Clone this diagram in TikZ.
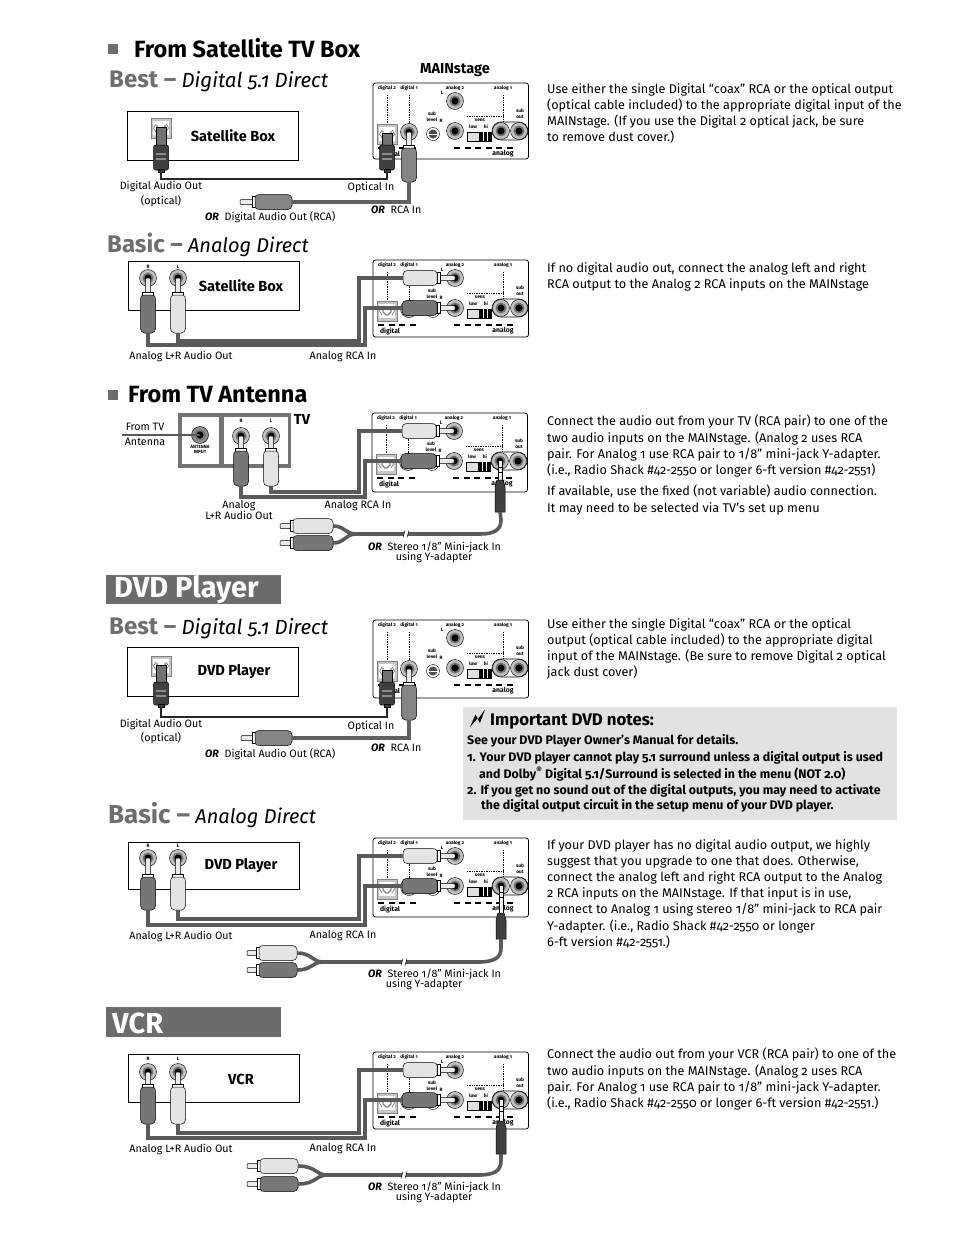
\documentclass[tikz,border=0pt]{standalone}
\usepackage{fontspec}
\setmainfont{Fira Sans}[Numbers=OldStyle]
\usepackage{xcolor}
\usetikzlibrary{positioning}
\definecolor{headgray}{HTML}{6E6E6E}
\definecolor{bannergray}{HTML}{6C6C6C}
\definecolor{notegray}{HTML}{E2E2E2}
\definecolor{plugdark}{HTML}{777777}
\definecolor{plugwhite}{HTML}{E4E4E4}
\definecolor{optdark}{HTML}{404040}
\definecolor{cablegray}{HTML}{5A5A5A}
\newcommand{\grayhead}[2][24]{\textcolor{headgray}{\fontsize{#1}{#1}\selectfont\upshape\bfseries #2 –}}
\newcommand{\orword}{{\bfseries\itshape OR}}
\tikzset{
  sourcebox/.style={draw, thick, minimum width=171pt, minimum height=49pt, inner sep=0pt},
  boxtext/.style={font=\fontsize{14.6}{14.6}\selectfont\bfseries, inner sep=0pt},
  section/.style={anchor=west, inner sep=0pt, font=\fontsize{23.5}{23.5}\selectfont\bfseries},
  bullet/.style={fill=headgray, minimum size=10pt, inner sep=0pt},
  subhead/.style={anchor=west, inner sep=0pt, font=\fontsize{20.5}{22}\selectfont\itshape},
  banner/.style={fill=bannergray, minimum width=175pt, minimum height=29.5pt, inner sep=0pt},
  bannertext/.style={anchor=west, inner sep=0pt, text=white, font=\fontsize{29}{29}\selectfont\bfseries},
  lbl/.style={inner sep=0pt, yshift=-1.5pt, align=center, font=\fontsize{10.7}{10.7}\selectfont},
  note/.style={anchor=north west, inner sep=0pt, align=left, font=\fontsize{12.65}{16.2}\selectfont},
  notebold/.style={anchor=west, inner sep=0pt, yshift=-1pt, font=\fontsize{12.4}{12.4}\selectfont\bfseries},
  ptxt/.style={inner sep=0pt, align=center, font=\fontsize{4.8}{6}\selectfont\bfseries},
  jack/.style={circle, draw=black, fill=black!25, minimum size=17pt, inner sep=0pt, path picture={
    \fill[black!55, shift={(path picture bounding box.center)}] (0,0) circle (5.5);
    \fill[black, shift={(path picture bounding box.center)}] (0,0) circle (3.5);}},
  knob/.style={circle, draw=black, fill=white, minimum size=13pt, inner sep=0pt, path picture={
    \fill[black!70, shift={(path picture bounding box.center)}] (0,0) circle (4.5);
    \draw[white, shift={(path picture bounding box.center)}] (-5,0) -- (5,0);}},
  optjack/.style={rectangle, draw=black!50, fill=black!22, minimum size=20pt, inner sep=0pt, path picture={
    \begin{scope}[shift={(path picture bounding box.center)}]
      \fill[white] (-8,-7) rectangle (8,7);
      \draw[line width=.7] (-5,-4) -- (-7.5,0) -- (-5,4) (5,-4) -- (7.5,0) -- (5,4);
      \draw[line width=1.3] (-4,-3) -- (-4,1) -- (-1,4) -- (1,4) -- (4,1) -- (4,-3);
    \end{scope}}},
  plugline/.style={draw=black, line width=.5pt},
  cable/.style={draw=cablegray, line width=3.6pt},
  cablerca/.style={draw=black!62, line width=3.6pt},
  cableopt/.style={draw=black!85, line width=2.8pt},
  dots/.style={densely dotted, line width=.7pt},
  dashbar/.style={line width=1.2pt, dash pattern=on 6pt off 4.5pt},
  % panel of the receiver, origin at its top left corner
  pics/mainstage/.style={code={
    \draw[line width=.8pt, rounded corners=2.5pt, fill=white] (0,0) rectangle (155.5,#1);
    \draw[dots] (14,12) -- (14,42) (36,12) -- (36,40) (130,12) -- (130,39) (94,33) -- (130,33);
    \node[ptxt] (-dtwo) at (14,5) {digital 2};
    \node[ptxt] (-done) at (36,5) {digital 1};
    \node[ptxt] (-atwo) at (82,5) {analog 2};
    \node[ptxt] (-aone) at (130,5) {analog 1};
    \node[ptxt] (-lft) at (69,10) {L};
    \node[ptxt] (-rgt) at (68,38) {R};
    \node[ptxt] (-sub) at (59,33.5) {sub\\level};
    \node[ptxt] (-sens) at (107,37.5) {sens};
    \node[ptxt] (-low) at (100,44) {low};
    \node[ptxt] (-hi) at (113,44) {hi};
    \node[ptxt] (-sout) at (147,30.5) {sub\\out};
    \node[ptxt, font=\fontsize{6.8}{7}\selectfont\bfseries] (-dlab) at (17,71) {digital};
    \node[ptxt, font=\fontsize{6.8}{7}\selectfont\bfseries] (-alab) at (130,71) {analog};
    \draw[dashbar] (5,65) -- (43,65) (81,65) -- (142,65);
    \draw[line width=.6pt, rounded corners=9pt] (119,39) rectangle (155,57);
    \node[jack] (-anal) at (82,18) {};
    \node[jack] (-anar) at (82,48) {};
    \node[jack] (-anaone) at (128,48) {};
    \node[jack] (-subout) at (146,48) {};
    \node[jack] (-dig) at (36,49) {};
    \node[optjack] (-opt) at (14,51) {};
    \node[knob] (-lev) at (60,51) {};
    \draw[fill=black!12, line width=.5pt] (94,49) rectangle (118,58);
    \fill[black] (106,49) rectangle (118,58);
    \draw[white, line width=.6pt] (110,49) -- (110,58) (114,49) -- (114,58);
  }},
  % RCA plug: colour, neck, body
  pics/rcaplug/.style n args={3}{code={
    \draw[plugline, fill=black!8, rounded corners=1pt] (-2.5,0) rectangle (2.5,{#2+1});
    \draw[plugline, fill=white] (-5.5,#2) rectangle (5.5,{#2+3});
    \draw[plugline, fill=#1, rounded corners=1.5pt] (-6.5,{#2+3}) -- (-7.5,{#2+7}) -- (-7.5,{#2+#3})
      -- (-5,{#2+3+#3}) -- (5,{#2+3+#3}) -- (7.5,{#2+#3}) -- (7.5,{#2+7}) -- (6.5,{#2+3}) -- cycle;
    \coordinate (-end) at (0,{#2+3+#3});
  }},
  % optical plug: neck, body
  pics/optplug/.style n args={2}{code={
    \draw[plugline, fill=black!55] (-5,-1) rectangle (5,#1);
    \draw[plugline, fill=optdark, rounded corners=2pt] (-7.5,#1) rectangle (7.5,{#1+#2-2});
    \draw[plugline, fill=optdark] (-3,{#1+#2-3}) rectangle (3,{#1+#2});
    \draw[black!45, line width=1.2pt] (-5,{#1+9}) -- (5,{#1+9}) (-5,{#1+14}) -- (5,{#1+14});
    \coordinate (-end) at (0,{#1+#2});
  }},
  % stereo mini plug: neck, body
  pics/miniplug/.style n args={2}{code={
    \draw[plugline, fill=black!5] (-1.8,-1) rectangle (1.8,#1);
    \draw[black, line width=.6pt] (-1.8,6) -- (1.8,6) (-1.8,11) -- (1.8,11);
    \draw[plugline, fill=optdark] (-3,#1) -- (-5,{#1+7}) -- (-5,{#1+#2}) -- (5,{#1+#2}) -- (5,{#1+7}) -- (3,#1) -- cycle;
    \coordinate (-end) at (0,{#1+#2});
  }},
  % break mark on the long cable
  pics/cablecut/.style={code={
    \fill[white] (-2,-3) rectangle (2,3);
    \draw[line width=.5pt] (-3,3.5) .. controls (-1,1) and (-3,-1) .. (-1,-3.5);
    \draw[line width=.5pt] (1,3.5) .. controls (3,1) and (1,-1) .. (3,-3.5);
  }}
}
\begin{document}
\begin{tikzpicture}[x=1pt, y=-1pt]
  \useasboundingbox (0,0) rectangle (954,1235);

  % From Satellite TV Box
  \node[bullet] (bsat) at (113,49) {};
  \node[section] (hsat) at (134,48) {From Satellite TV Box};
  \node[subhead] (hbest) at (109,81.5) {\grayhead{Best} Digital 5.1 Direct};
  \node[font=\fontsize{14.5}{14.5}\selectfont\bfseries, inner sep=0pt] (lmain) at (455,70) {MAINstage};
  \node[sourcebox] (satone) at (213,135.5) {};
  \node[boxtext] (tsatone) at (233,136) {Satellite Box};
  \node[optjack] (satopt) at (161,128) {};
  \pic (pone) at (373,83) {mainstage=76};
  \pic (plga) at (satopt) {optplug={17}{27}};
  \pic (plgb) at (pone-opt) {optplug={11}{27}};
  \pic (plgc) at (pone-dig) {rcaplug={black!48}{13}{34}};
  \pic[rotate=90] (plgd) at (240,202) {rcaplug={black!48}{12}{37}};
  \draw[cableopt] (plga-end) -- (161,179) -| (plgb-end);
  \draw[cablerca] (plgc-end) |- (plgd-end);
  \node[lbl] (lfirst) at (161,192.5) {Digital Audio Out\\[2pt](optical)};
  \node[lbl] (lsecond) at (371,186) {Optical In};
  \node[lbl, anchor=west] (lthird) at (205,215.5) {\orword\ \ Digital Audio Out (RCA)};
  \node[lbl, anchor=west] (lfourth) at (371,208.5) {\orword\ \ RCA In};
  \node[note] (tone) at (547,83) {Use either the single Digital “coax” RCA or the optical output\\(optical cable included) to the appropriate digital input of the\\MAINstage. (If you use the Digital 2 optical jack, be sure\\to remove dust cover.)};

  % Basic, satellite
  \node[subhead, font=\fontsize{20}{22}\selectfont\itshape] (hbasic) at (107,244.5) {\grayhead{Basic} Analog Direct};
  \node[sourcebox] (sattwo) at (213.5,285.5) {};
  \node[boxtext] (tsattwo) at (241,286) {Satellite Box};
  \node[jack] (srjack) at (148,278) {};
  \node[jack] (sljack) at (178,278) {};
  \node[ptxt] (srlab) at (148,267) {R};
  \node[ptxt] (sllab) at (178,267) {L};
  \pic (ptwo) at (373,260) {mainstage=77};
  \pic (srplg) at (srjack) {rcaplug={plugdark}{14}{38}};
  \pic (slplg) at (sljack) {rcaplug={plugwhite}{14}{38}};
  \pic[rotate=-90] (tlplg) at (ptwo-anal) {rcaplug={plugwhite}{15}{34}};
  \pic[rotate=-90] (trplg) at (ptwo-anar) {rcaplug={plugdark}{15}{35}};
  \draw[cable] (srplg-end) |- (365,345) |- (trplg-end);
  \draw[cable] (slplg-end) |- (359,341) |- (tlplg-end);
  \node[lbl] (lfifth) at (181,355) {Analog L+R Audio Out};
  \node[lbl] (lsixth) at (343,355) {Analog RCA In};
  \node[note] (ttwo) at (547,262) {If no digital audio out, connect the analog left and right\\RCA output to the Analog 2 RCA inputs on the MAINstage};

  % From TV Antenna
  \node[bullet] (btv) at (113,395) {};
  \node[section] (htv) at (128,395) {From TV Antenna};
  \node[fill=black!55, minimum width=113pt, minimum height=55pt, inner sep=0pt] (tvframe) at (234.5,440.5) {};
  \node[fill=white, minimum width=37pt, minimum height=47pt, inner sep=0pt] (tvleft) at (200.5,440.5) {};
  \node[fill=white, minimum width=64pt, minimum height=47pt, inner sep=0pt] (tvright) at (256,440.5) {};
  \node[font=\fontsize{14.5}{14.5}\selectfont\bfseries, inner sep=0pt] (ltv) at (302,419) {TV};
  \node[jack, fill=black!45] (antjack) at (200,435) {};
  \coordinate (antfree) at (122,435);
  \draw[line width=1.4pt, cablegray] (antfree) -- (antjack.center);
  \node[lbl] (lant) at (145,433) {From TV\\[5pt]Antenna};
  \node[ptxt, font=\fontsize{4.5}{5}\selectfont\bfseries] (lantin) at (200,449.5) {ANTENNA\\INPUT};
  \node[jack] (trjack) at (241,436) {};
  \node[jack] (tljack) at (271,436) {};
  \node[ptxt] (trlab) at (241,421) {R};
  \node[ptxt] (tllab) at (271,421) {L};
  \pic (pthree) at (372,413) {mainstage=79};
  \pic (vrplg) at (trjack) {rcaplug={plugdark}{12}{35}};
  \pic (vlplg) at (tljack) {rcaplug={plugwhite}{12}{35}};
  \pic[rotate=-90] (wlplg) at (pthree-anal) {rcaplug={plugwhite}{15}{34}};
  \pic[rotate=-90] (wrplg) at (pthree-anar) {rcaplug={plugdark}{15}{35}};
  \draw[cable] (vrplg-end) |- (365,497) |- (wrplg-end);
  \draw[cable] (vlplg-end) |- (359,492) |- (wlplg-end);
  \pic (mone) at (pthree-anaone) {miniplug={19}{32}};
  \pic[rotate=90] (yaa) at (280,526) {rcaplug={plugwhite}{10}{40}};
  \pic[rotate=90] (yab) at (280,543) {rcaplug={plugdark}{10}{40}};
  \draw[cable] (mone-end) -- (501,520) .. controls (501,530) and (494,534) .. (480,534) -- (356,534);
  \draw[cable] (yaa-end) .. controls (345,526) and (345,534) .. (356,534);
  \draw[cable] (yab-end) .. controls (345,543) and (345,534) .. (356,534);
  \pic (cone) at (406,534) {cablecut};
  \node[lbl] (lseven) at (239,508.5) {Analog\\L+R Audio Out};
  \node[lbl] (leight) at (358,504.5) {Analog RCA In};
  \node[lbl, anchor=west] (lnine) at (368,546) {\orword\ \ Stereo 1/8" Mini-jack In};
  \node[lbl] (lten) at (434,555.5) {using Y-adapter};
  \node[note] (tthree) at (547,415) {Connect the audio out from your TV (RCA pair) to one of the\\two audio inputs on the MAINstage. (Analog 2 uses RCA\\pair. For Analog 1 use RCA pair to 1/8” mini-jack Y-adapter.\\(i.e., Radio Shack \#42-2550 or longer 6-ft version \#42-2551)};
  \node[note] (tfour) at (547,485) {If available, use the fixed (not variable) audio connection.\\It may need to be selected via TV’s set up menu};

  % DVD Player
  \node[banner] (bandvd) at (193.5,589.5) {};
  \node[bannertext] (tdvd) at (114,590) {DVD Player};
  \node[subhead] (hbestd) at (109,628) {\grayhead{Best} Digital 5.1 Direct};
  \node[sourcebox] (dvdone) at (213,672) {};
  \node[boxtext] (tdvdone) at (234,672) {DVD Player};
  \node[optjack] (dvdopt) at (161,666) {};
  \pic (pfour) at (373,620) {mainstage=78};
  \pic (dlga) at (dvdopt) {optplug={16}{25}};
  \pic (dlgb) at (pfour-opt) {optplug={11}{25}};
  \pic (dlgc) at (pfour-dig) {rcaplug={black!48}{13}{35}};
  \pic[rotate=90] (dlgd) at (241,738) {rcaplug={black!48}{11}{37}};
  \draw[cableopt] (dlga-end) -- (161,717) -| (dlgb-end);
  \draw[cablerca] (dlgc-end) |- (dlgd-end);
  \node[lbl] (dfirst) at (161,730) {Digital Audio Out\\[2pt](optical)};
  \node[lbl] (dsecond) at (371,724.5) {Optical In};
  \node[lbl, anchor=west] (dthird) at (205,752.5) {\orword\ \ Digital Audio Out (RCA)};
  \node[lbl, anchor=west] (dfourth) at (371,746.5) {\orword\ \ RCA In};
  \node[note] (tfive) at (547,618) {Use either the single Digital “coax” RCA or the optical\\output (optical cable included) to the appropriate digital\\input of the MAINstage. (Be sure to remove Digital 2 optical\\jack dust cover)};

  % Important notes
  \node[fill=notegray, minimum width=434pt, minimum height=113pt, inner sep=0pt] (notebox) at (680,763.5) {};
  \fill (470,727) -- (475.5,714.5) -- (478,719) -- (485,709.5) -- (480,723) -- (477.5,718.5) -- cycle;
  \node[notebold, font=\fontsize{16.8}{16.8}\selectfont\bfseries, yshift=-2pt] (ntitle) at (490,719) {Important DVD notes:};
  \node[notebold] (nline) at (467,740) {See your DVD Player Owner’s Manual for details.};
  \node[notebold] (nonea) at (467,757) {1. Your DVD player cannot play 5.1 surround unless a digital output is used};
  \node[notebold] (noneb) at (479,773) {and Dolby\textsuperscript{®} Digital 5.1/Surround is selected in the menu (NOT 2.0)};
  \node[notebold] (ntwoa) at (467,790) {2. If you get no sound out of the digital outputs, you may need to activate};
  \node[notebold] (ntwob) at (481,805) {the digital output circuit in the setup menu of your DVD player.};

  % Basic, DVD
  \node[subhead, font=\fontsize{20}{22}\selectfont\itshape] (hbasicd) at (108,815) {\grayhead[26]{Basic} Analog Direct};
  \node[sourcebox, minimum height=47pt] (dvdtwo) at (213.5,865.5) {};
  \node[boxtext] (tdvdtwo) at (241,866) {DVD Player};
  \node[jack] (drjack) at (148,858) {};
  \node[jack] (dljack) at (178,858) {};
  \node[ptxt] (drlab) at (148,846) {R};
  \node[ptxt] (dllab) at (178,846) {L};
  \pic (psix) at (373,838) {mainstage=79};
  \pic (drplg) at (drjack) {rcaplug={plugdark}{16}{33}};
  \pic (dlplg) at (dljack) {rcaplug={plugwhite}{16}{33}};
  \pic[rotate=-90] (elplg) at (psix-anal) {rcaplug={plugwhite}{15}{34}};
  \pic[rotate=-90] (erplg) at (psix-anar) {rcaplug={plugdark}{15}{35}};
  \draw[cable] (drplg-end) |- (365,925) |- (erplg-end);
  \draw[cable] (dlplg-end) |- (359,919) |- (elplg-end);
  \pic (mtwo) at (psix-anaone) {miniplug={27}{26}};
  \pic[rotate=90] (yba) at (247,953) {rcaplug={plugwhite}{9}{38}};
  \pic[rotate=90] (ybb) at (247,970) {rcaplug={plugdark}{9}{38}};
  \draw[cable] (mtwo-end) -- (501,948) .. controls (501,958) and (494,962) .. (478,962) -- (323,962);
  \draw[cable] (yba-end) .. controls (312,953) and (312,962) .. (323,962);
  \draw[cable] (ybb-end) .. controls (312,970) and (312,962) .. (323,962);
  \pic (ctwo) at (404,962) {cablecut};
  \node[lbl] (dfifth) at (181,934.5) {Analog L+R Audio Out};
  \node[lbl] (dsixth) at (343,934.5) {Analog RCA In};
  \node[lbl, anchor=west] (dnine) at (368,972.5) {\orword\ \ Stereo 1/8" Mini-jack In};
  \node[lbl] (dten) at (424,982.5) {using Y-adapter};
  \node[note] (tsix) at (547,839) {If your DVD player has no digital audio output, we highly\\suggest that you upgrade to one that does. Otherwise,\\connect the analog left and right RCA output to the Analog\\2 RCA inputs on the MAINstage. If that input is in use,\\connect to Analog 1 using stereo 1/8” mini-jack to RCA pair\\Y-adapter. (i.e., Radio Shack \#42-2550 or longer\\6-ft version \#42-2551.)};

  % VCR
  \node[banner] (banvcr) at (193.5,1022) {};
  \node[bannertext] (tvcr) at (112,1023) {VCR};
  \node[sourcebox, minimum height=48pt] (vcrbox) at (213.5,1078) {};
  \node[boxtext] (tvcrbox) at (241,1079) {VCR};
  \node[jack] (crjack) at (148,1072) {};
  \node[jack] (cljack) at (178,1072) {};
  \node[ptxt] (crlab) at (148,1059) {R};
  \node[ptxt] (cllab) at (178,1059) {L};
  \pic (pseven) at (373,1052) {mainstage=77};
  \pic (crplg) at (crjack) {rcaplug={plugdark}{12}{37}};
  \pic (clplg) at (cljack) {rcaplug={plugwhite}{12}{37}};
  \pic[rotate=-90] (flplg) at (pseven-anal) {rcaplug={plugwhite}{15}{34}};
  \pic[rotate=-90] (frplg) at (pseven-anar) {rcaplug={plugdark}{15}{35}};
  \draw[cable] (crplg-end) |- (365,1138) |- (frplg-end);
  \draw[cable] (clplg-end) |- (359,1133) |- (flplg-end);
  \pic (mthree) at (pseven-anaone) {miniplug={21}{33}};
  \pic[rotate=90] (yca) at (247,1166) {rcaplug={plugwhite}{10}{38}};
  \pic[rotate=90] (ycb) at (247,1184) {rcaplug={plugdark}{10}{38}};
  \draw[cable] (mthree-end) -- (501,1161) .. controls (501,1171) and (494,1175) .. (478,1175) -- (327,1175);
  \draw[cable] (yca-end) .. controls (316,1166) and (316,1175) .. (327,1175);
  \draw[cable] (ycb-end) .. controls (316,1184) and (316,1175) .. (327,1175);
  \pic (cthree) at (404,1175) {cablecut};
  \node[lbl] (cfifth) at (181,1147.5) {Analog L+R Audio Out};
  \node[lbl] (csixth) at (343,1147.5) {Analog RCA In};
  \node[lbl, anchor=west] (cnine) at (368,1185.5) {\orword\ \ Stereo 1/8" Mini-jack In};
  \node[lbl] (cten) at (434,1195.5) {using Y-adapter};
  \node[note] (tseven) at (547,1048) {Connect the audio out from your VCR (RCA pair) to one of the\\two audio inputs on the MAINstage. (Analog 2 uses RCA\\pair. For Analog 1 use RCA pair to 1/8” mini-jack Y-adapter.\\(i.e., Radio Shack \#42-2550 or longer 6-ft version \#42-2551.)};
\end{tikzpicture}
\end{document}
